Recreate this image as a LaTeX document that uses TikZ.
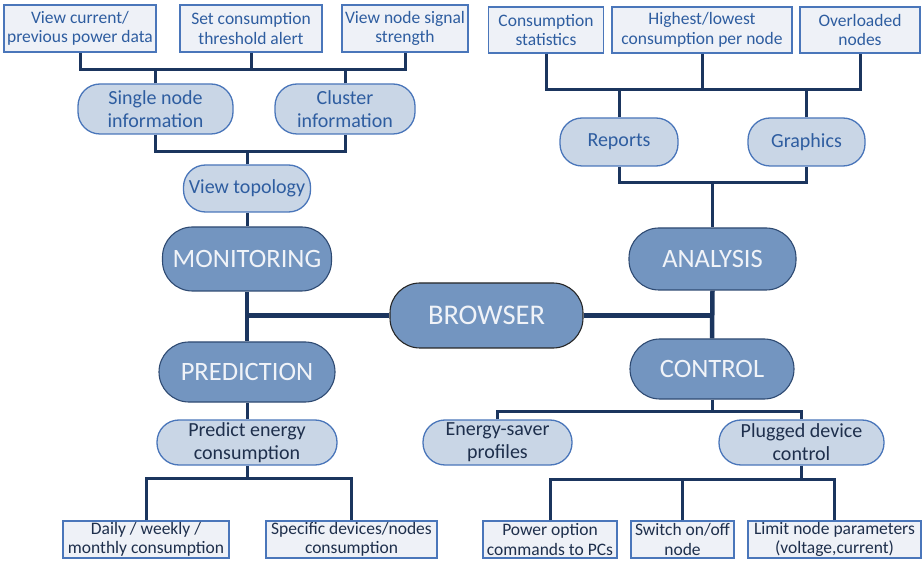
\documentclass[tikz,border=0pt]{standalone}
\usepackage{fontspec}
\setmainfont{Carlito}
\begin{document}
\begin{tikzpicture}[x=1pt,y=-1pt,
  sbox/.style={draw=boxline,fill=boxfill,line width=1.3pt,rectangle,inner sep=0pt,align=center,
    font=\fontsize{17.5}{19.5}\selectfont},
  pill/.style={draw=pillline,fill=pillfill,line width=1.3pt,rounded corners=22pt,inner sep=0pt,align=center,
    font=\fontsize{20}{23}\selectfont},
  big/.style={draw=bigline,fill=bigfill,line width=1.1pt,rounded corners=30pt,inner sep=0pt,align=center,
    text=bigtext,font=\fontsize{26.5}{28}\selectfont},
  conn/.style={draw=connc,line width=3pt},
  main/.style={draw=connc,line width=4.5pt}
]
\definecolor{boxline}{HTML}{4A76BA}
\definecolor{boxfill}{HTML}{EEF1F7}
\definecolor{pillline}{HTML}{4A76BA}
\definecolor{pillfill}{HTML}{C9D6E6}
\definecolor{bigline}{HTML}{2E4A72}
\definecolor{bigfill}{HTML}{7395C0}
\definecolor{bigtext}{HTML}{F0F3F8}
\definecolor{connc}{HTML}{1B355E}
\definecolor{bluetext}{HTML}{2E5DA0}
\definecolor{darktext}{HTML}{1E2F4C}
\useasboundingbox (0,0) rectangle (924,561);

% top-left
\node[sbox,text=bluetext,minimum width=152pt,minimum height=47pt] (b1) at (80,28.5) {View current/\\previous power data};
\node[sbox,text=bluetext,minimum width=142pt,minimum height=47pt] (b2) at (251,28.5) {Set consumption\\threshold alert};
\node[sbox,text=bluetext,minimum width=126pt,minimum height=47pt] (b3) at (405,28.5) {View node signal\\strength};
\node[pill,text=bluetext,minimum width=155pt,minimum height=50pt] (sn) at (155.5,109) {Single node\\information};
\node[pill,text=bluetext,minimum width=140pt,minimum height=50pt] (cl) at (345,109) {Cluster\\information};
\node[pill,text=bluetext,minimum width=127pt,minimum height=47pt] (vt) at (247,188.5) {View topology};

% top-right
\node[sbox,text=bluetext,minimum width=115pt,minimum height=46pt] (b4) at (546,30) {Consumption\\statistics};
\node[sbox,text=bluetext,minimum width=180pt,minimum height=46pt] (b5) at (702,30) {Highest/lowest\\consumption per node};
\node[sbox,text=bluetext,minimum width=120pt,minimum height=46pt] (b6) at (860,30) {Overloaded\\nodes};
\node[pill,text=bluetext,minimum width=118pt,minimum height=48pt] (rp) at (619,142) {Reports};
\node[pill,text=bluetext,minimum width=117pt,minimum height=48pt] (gr) at (806.5,142) {Graphics};

% main
\node[big,minimum width=169pt,minimum height=64pt] (mon) at (247,259) {MONITORING};
\node[big,minimum width=167pt,minimum height=62pt] (an) at (712.5,259) {ANALYSIS};
\node[big,draw=black!85,minimum width=193pt,minimum height=65pt,font=\fontsize{28.5}{30}\selectfont] (br) at (486.5,315.5) {BROWSER};
\node[big,minimum width=176pt,minimum height=60pt] (pr) at (247,372) {PREDICTION};
\node[big,minimum width=164pt,minimum height=60pt] (co) at (712,369) {CONTROL};

% lower
\node[pill,text=darktext,minimum width=180pt,minimum height=45pt] (pe) at (247,442.5) {Predict energy\\consumption};
\node[pill,text=darktext,minimum width=149pt,minimum height=45pt] (es) at (497.5,442.5) {Energy-saver\\profiles};
\node[pill,text=darktext,minimum width=165pt,minimum height=45pt] (pd) at (801.5,442.5) {Plugged device\\control};
\node[sbox,text=darktext,minimum width=166pt,minimum height=37pt] (d1) at (146,539.5) {Daily / weekly /\\monthly consumption};
\node[sbox,text=darktext,minimum width=171pt,minimum height=37pt] (d2) at (351.5,539.5) {Specific devices/nodes\\consumption};
\node[sbox,text=darktext,minimum width=134pt,minimum height=37pt] (c1) at (550,539.5) {Power option\\commands to PCs};
\node[sbox,text=darktext,minimum width=103pt,minimum height=37pt] (c2) at (682.5,539.5) {Switch on/off\\node};
\node[sbox,text=darktext,minimum width=173pt,minimum height=37pt] (c3) at (834.5,539.5) {Limit node parameters\\(voltage,current)};

% junction levels
\coordinate (hA) at (0,70);
\coordinate (hB) at (0,152);
\coordinate (hC) at (0,90);
\coordinate (hD) at (0,183);
\coordinate (hE) at (0,478);
\coordinate (hF) at (0,411);
\coordinate (hG) at (0,479);

% connectors top-left
\draw[conn] (b1.south) -- (b1.south |- hA) -| (b3.south);
\draw[conn] (b2.south) -- (b2.south |- hA);
\draw[conn] (sn.north) -- (sn.north |- hA);
\draw[conn] (cl.north) -- (cl.north |- hA);
\draw[conn] (sn.south) -- (sn.south |- hB) -| (cl.south);
\draw[conn] (vt.north) -- (vt.north |- hB);
\draw[conn] (vt.south) -- (mon.north);

% connectors top-right
\draw[conn] (b4.south) -- (b4.south |- hC) -| (b6.south);
\draw[conn] (b5.south) -- (b5.south |- hC);
\draw[conn] (rp.north) -- (rp.north |- hC);
\draw[conn] (gr.north) -- (gr.north |- hC);
\draw[conn] (rp.south) -- (rp.south |- hD) -| (gr.south);
\draw[conn] (an.north) -- (an.north |- hD);

% main connectors
\draw[main] (mon.south) -- (pr.north);
\draw[main] (br.west) -- (br.west -| mon.south);
\draw[main] (an.south) -- (co.north);
\draw[main] (br.east) -- (br.east -| an.south);

% lower connectors
\draw[conn] (pr.south) -- (pe.north);
\draw[conn] (pe.south) -- (pe.south |- hE);
\draw[conn] (d1.north) -- (d1.north |- hE) -| (d2.north);
\draw[conn] (co.south) -- (co.south |- hF);
\draw[conn] (es.north) -- (es.north |- hF) -| (pd.north);
\draw[conn] (pd.south) -- (pd.south |- hG);
\draw[conn] (c1.north) -- (c1.north |- hG) -| (c3.north);
\draw[conn] (c2.north) -- (c2.north |- hG);
\end{tikzpicture}
\end{document}
